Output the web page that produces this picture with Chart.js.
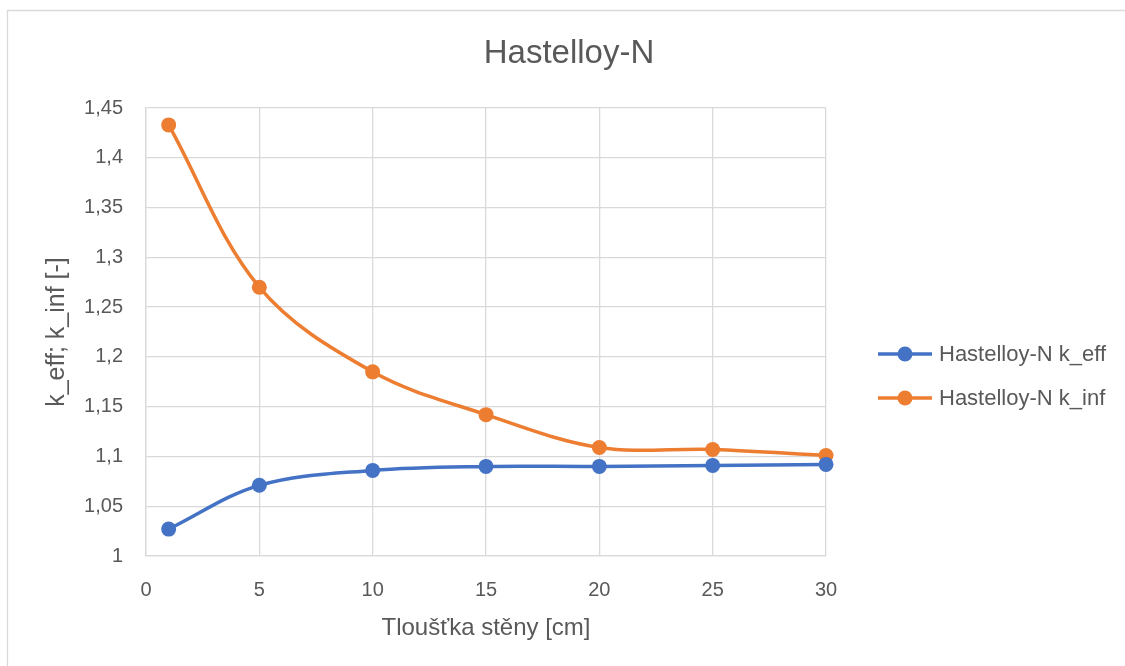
<!DOCTYPE html>
<html>
<head>
<meta charset="utf-8">
<script src="https://cdn.jsdelivr.net/npm/chart.js@4/dist/chart.umd.min.js"></script>
<style>
  html, body { margin: 0; padding: 0; background: #fff; }
</style>
</head>
<body>
<canvas id="hastelloyChart" width="1125" height="666"></canvas>
<script>
// wall thickness [cm]
const thickness = [1, 5, 10, 15, 20, 25, 30];
const kEff = [1.027, 1.071, 1.086, 1.090, 1.090, 1.091, 1.092];
const kInf = [1.433, 1.270, 1.185, 1.142, 1.109, 1.107, 1.101];
const seriesNames = ['Hastelloy-N k_eff', 'Hastelloy-N k_inf'];
const xTicks = [0, 5, 10, 15, 20, 25, 30];
const yTicks = [1, 1.05, 1.1, 1.15, 1.2, 1.25, 1.3, 1.35, 1.4, 1.45];
const chartTitle = 'Hastelloy-N';
const xTitle = 'Tloušťka stěny [cm]';
const yTitle = 'k_eff; k_inf [-]';

const FONT = '"Liberation Sans", Arial, sans-serif';
const TEXT = '#595959';
const GRID = '#d9d9d9';
const colors = ['#4472C4', '#ED7D31'];

const toPoints = (xs, ys) => xs.map((x, i) => ({ x: x, y: ys[i] }));
const fmt = v => String(+v.toFixed(2)).replace('.', ',');

// white page, frame, title and legend drawn around the chart
const decorations = {
    id: 'decorations',
    beforeDraw(chart) {
        const ctx = chart.ctx;
        ctx.save();
        ctx.fillStyle = '#fff';
        ctx.fillRect(0, 0, chart.width, chart.height);
        ctx.strokeStyle = GRID;
        ctx.lineWidth = 1.3;
        ctx.beginPath();
        ctx.moveTo(7.5, chart.height);
        ctx.lineTo(7.5, 10.5);
        ctx.lineTo(chart.width, 10.5);
        ctx.stroke();
        ctx.restore();
    },
    afterDraw(chart) {
        const ctx = chart.ctx;
        ctx.save();
        ctx.fillStyle = TEXT;
        ctx.font = '33px ' + FONT;
        ctx.textAlign = 'center';
        ctx.textBaseline = 'middle';
        ctx.fillText(chartTitle, 569, 54);

        ctx.font = '22px ' + FONT;
        ctx.textAlign = 'left';
        chart.data.datasets.forEach((ds, i) => {
            const y = 354 + i * 44;
            ctx.strokeStyle = ds.borderColor;
            ctx.lineWidth = 3.5;
            ctx.beginPath();
            ctx.moveTo(878, y);
            ctx.lineTo(932, y);
            ctx.stroke();
            ctx.fillStyle = ds.backgroundColor;
            ctx.beginPath();
            ctx.arc(905, y, 7.5, 0, Math.PI * 2);
            ctx.fill();
            ctx.fillStyle = TEXT;
            ctx.fillText(ds.label, 939, y + 1);
        });
        ctx.restore();
    }
};

const datasets = [kEff, kInf].map((ys, i) => ({
    label: seriesNames[i],
    data: toPoints(thickness, ys),
    borderColor: colors[i],
    backgroundColor: colors[i],
    borderWidth: 3.5,
    pointRadius: 7.5,
    pointBorderWidth: 0,
    pointHoverRadius: 7.5,
    tension: 0.35,
    showLine: true,
    clip: false
}));

new Chart(document.getElementById('hastelloyChart'), {
    type: 'scatter',
    data: { datasets: datasets },
    options: {
        responsive: false,
        animation: false,
        events: [],
        layout: { padding: { left: 0, right: 299, top: 108, bottom: 0 } },
        plugins: {
            legend: { display: false },
            title: { display: false },
            tooltip: { enabled: false }
        },
        scales: {
            x: {
                type: 'linear',
                min: 0,
                max: 30,
                afterFit: s => { s.height = 110; },
                afterBuildTicks: s => { s.ticks = xTicks.map(v => ({ value: v })); },
                grid: { color: GRID, lineWidth: 1.3, drawTicks: false },
                border: { color: GRID, width: 1.3 },
                ticks: {
                    color: TEXT,
                    font: { family: FONT, size: 20 },
                    padding: 22,
                    maxRotation: 0,
                    callback: v => fmt(v)
                },
                title: {
                    display: true,
                    text: xTitle,
                    color: TEXT,
                    font: { family: FONT, size: 24 },
                    padding: { top: 0, bottom: 23 }
                }
            },
            y: {
                type: 'linear',
                min: 1,
                max: 1.45,
                afterFit: s => { s.width = 146; },
                afterBuildTicks: s => { s.ticks = yTicks.map(v => ({ value: v })); },
                grid: { color: GRID, lineWidth: 1.3, drawTicks: false },
                border: { color: GRID, width: 1.3 },
                ticks: {
                    color: TEXT,
                    font: { family: FONT, size: 20 },
                    padding: 23,
                    callback: v => fmt(v)
                },
                title: {
                    display: true,
                    text: yTitle,
                    color: TEXT,
                    font: { family: FONT, size: 25 },
                    padding: { top: 42, bottom: 0 }
                }
            }
        }
    },
    plugins: [decorations]
});
</script>
</body>
</html>
